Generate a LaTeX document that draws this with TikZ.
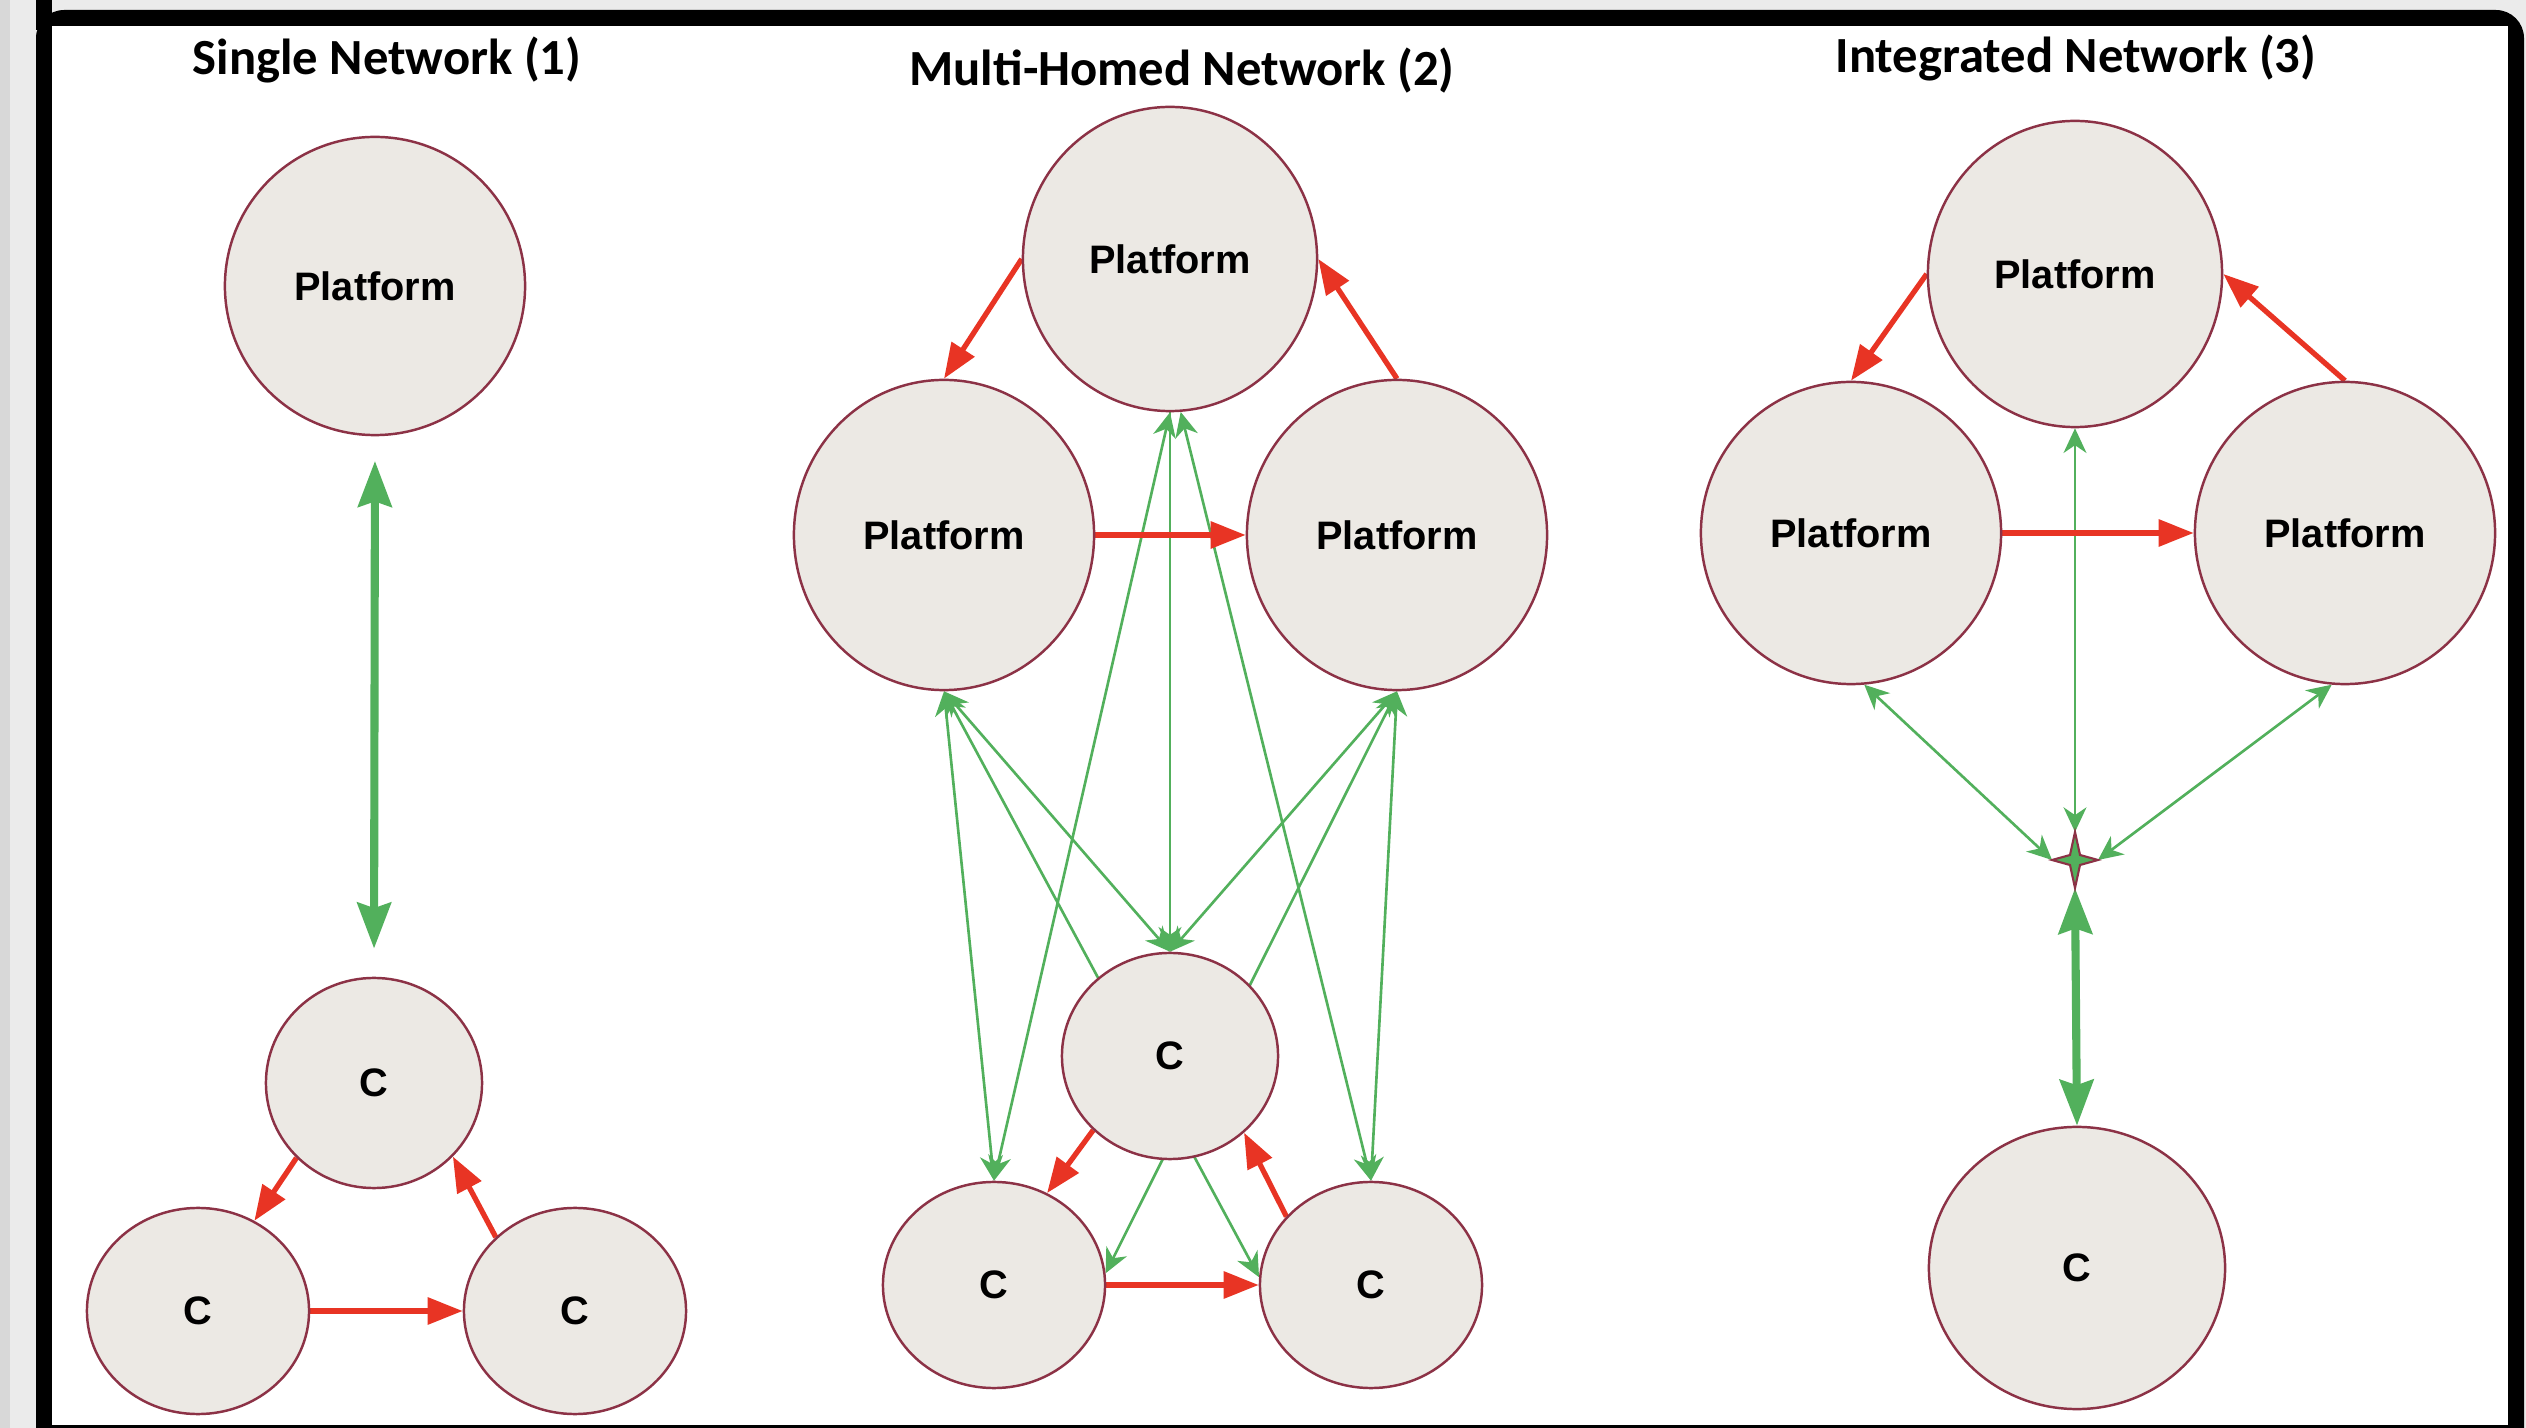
\documentclass[tikz,border=0pt]{standalone}
\usepackage{fontspec}
\setmainfont{Liberation Sans}
\newfontfamily\titlefont{Carlito}
\usetikzlibrary{shapes.geometric, arrows.meta}
\definecolor{nodefill}{RGB}{236,233,228}
\definecolor{nodeline}{RGB}{140,50,70}
\definecolor{redarrow}{RGB}{232,52,36}
\definecolor{greenarrow}{RGB}{82,176,92}
\definecolor{bgray}{RGB}{235,235,235}
\definecolor{dgray}{RGB}{216,216,216}
\pgfdeclarelayer{back}
\pgfdeclarelayer{edges}
\pgfsetlayers{back,edges,main}
\begin{document}
\begin{tikzpicture}[x=0.01cm, y=-0.01cm,
  bubble/.style={ellipse, draw=nodeline, fill=nodefill, line width=0.7pt, inner sep=0pt,
    font=\fontsize{11.3}{13}\selectfont\bfseries},
  redarr/.style={draw=redarrow, line width=1.5pt, -{Triangle[length=10pt,width=7.5pt]}},
  thinarr/.style={draw=greenarrow, line width=0.75pt,
    {Stealth[length=7pt,width=6.5pt,inset=2.2pt]}-{Stealth[length=7pt,width=6.5pt,inset=2.2pt]}},
  thinone/.style={draw=greenarrow, line width=0.75pt, -{Stealth[length=7pt,width=6.5pt,inset=2.2pt]}},
  thickarr/.style={draw=greenarrow, line width=2.3pt,
    {Stealth[length=13pt,width=9.5pt,inset=1.5pt]}-{Stealth[length=13pt,width=9.5pt,inset=1.5pt]}},
  titletext/.style={font=\titlefont\fontsize{14.4}{17}\selectfont\bfseries, anchor=base}
]
\useasboundingbox (0,0) rectangle (2526,1428);
\clip (0,0) rectangle (2526,1428);
\begin{pgfonlayer}{back}
  \fill[bgray] (0,0) rectangle (2526,1428);
  \fill[dgray] (0,0) rectangle (10,1428);
  \fill[black, rounded corners=8] (36,10) rectangle (2524,1460);
  \fill[black] (36,0) rectangle (52,30);
  \fill[white] (52,26) rectangle (2508,1425);
\end{pgfonlayer}

% titles
\node[titletext] (t1) at (387,75) {Single Network (1)};
\node[titletext] (t2) at (1182,86) {Multi-Homed Network (2)};
\node[titletext] (t3) at (2076,73) {Integrated Network (3)};

% ---------- panel 1
\node[bubble, minimum width=3cm, minimum height=2.98cm] (P1) at (375,286) {Platform};
\node[bubble, minimum width=2.16cm, minimum height=2.1cm] (CT1) at (374,1083) {C};
\node[bubble, minimum width=2.22cm, minimum height=2.06cm] (CL1) at (198,1311) {C};
\node[bubble, minimum width=2.22cm, minimum height=2.06cm] (CR1) at (575,1311) {C};

% ---------- panel 2
\node[bubble, minimum width=2.94cm, minimum height=3.04cm] (PT2) at (1170,259) {Platform};
\node[bubble, minimum width=3cm, minimum height=3.1cm] (PL2) at (944,535) {Platform};
\node[bubble, minimum width=3cm, minimum height=3.1cm] (PR2) at (1397,535) {Platform};
\node[bubble, minimum width=2.16cm, minimum height=2.06cm] (CT2) at (1170,1056) {C};
\node[bubble, minimum width=2.22cm, minimum height=2.06cm] (CL2) at (994,1285) {C};
\node[bubble, minimum width=2.22cm, minimum height=2.06cm] (CR2) at (1371,1285) {C};

% ---------- panel 3
\node[bubble, minimum width=2.94cm, minimum height=3.06cm] (PT3) at (2075,274) {Platform};
\node[bubble, minimum width=3cm, minimum height=3.02cm] (PL3) at (1851,533) {Platform};
\node[bubble, minimum width=3cm, minimum height=3.02cm] (PR3) at (2345,533) {Platform};
\node[bubble, minimum width=2.96cm, minimum height=2.82cm] (C3) at (2077,1268) {C};

% four-pointed star hub
\coordinate (S) at (2075,860);
\coordinate (Sn) at (2075,832);
\coordinate (Ss) at (2075,888);
\coordinate (Sw) at (2052,860);
\coordinate (Se) at (2098,860);
\filldraw[fill=greenarrow, draw=nodeline, line width=0.6pt, line join=miter]
  (Sn) -- (2080,855) -- (Se) -- (2080,865) -- (Ss) -- (2070,865) -- (Sw) -- (2070,855) -- cycle;

\begin{pgfonlayer}{edges}
  % panel 1
  \draw[thickarr, shorten <=7pt, shorten >=8pt] (P1.south) -- (CT1.north);
  \draw[redarr] (CT1.224) -- (CL1.58);
  \draw[redarr] (CR1.137) -- (CT1.-43);
  \draw[redarr] (CL1.east) -- (CR1.west);

  % panel 2 green
  \draw[thinarr] (PL2.south) -- (CL2.north);
  \draw[thinarr] (PL2.south) -- (CT2.north);
  \draw[thinarr] (PL2.south) -- (CR2.176);
  \draw[thinarr] (PT2.south) -- (CL2.north);
  \draw[thinone] (PT2.south) -- (CT2.north);
  \draw[thinarr] (PT2.-86) -- (CR2.north);
  \draw[thinarr] (PR2.south) -- (CL2.6);
  \draw[thinarr] (PR2.south) -- (CT2.north);
  \draw[thinarr] (PR2.south) -- (CR2.north);
  % panel 2 red
  \draw[redarr] (PT2.west) -- (PL2.north);
  \draw[redarr] (PR2.north) -- (PT2.east);
  \draw[redarr] (PL2.east) -- (PR2.west);
  \draw[redarr] (CT2.224) -- (CL2.60);
  \draw[redarr] (CR2.141) -- (CT2.-46);
  \draw[redarr] (CL2.east) -- (CR2.west);

  % panel 3
  \draw[thinarr] (PL3.-85) -- (Sw);
  \draw[thinarr] (PT3.south) -- (Sn);
  \draw[thinarr] (PR3.-95) -- (Se);
  \draw[thickarr] (Ss) -- (C3.north);
  \draw[redarr] (PT3.west) -- (PL3.north);
  \draw[redarr] (PR3.north) -- (PT3.east);
  \draw[redarr] (PL3.east) -- (PR3.west);
\end{pgfonlayer}
\end{tikzpicture}
\end{document}
